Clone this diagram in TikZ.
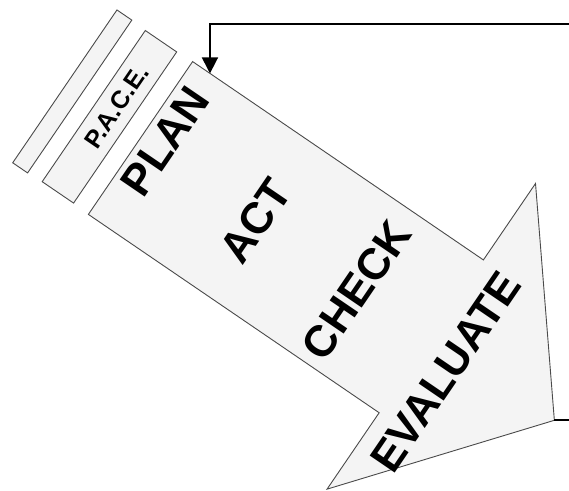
\documentclass[tikz,border=0pt]{standalone}
\usepackage{fontspec}
\setmainfont{Liberation Sans}
\usetikzlibrary{arrows.meta}
\definecolor{Shade}{HTML}{F4F4F4}
\definecolor{Edge}{HTML}{4A4A4A}

\begin{document}
\begin{tikzpicture}[x=0.5pt, y=0.5pt,
    panel/.style={fill=Shade, draw=Edge, line width=0.45pt},
    word/.style={font=\fontsize{22}{24}\selectfont\bfseries, rotate=55.7, inner sep=0pt},
    loop/.style={line width=0.85pt}]
  \useasboundingbox (0,0) rectangle (569,491);
  % everything along the arrow is laid out in the arrow's own frame
  \begin{scope}[shift={(140.5,353)}, rotate=-34.3]
    % the two strips behind the tail
    \draw[panel] (-91.6,-92.5) rectangle (-73.6,92.5);
    \draw[panel] (-56.6,-91.5) rectangle (-18.6,91.5);
    % the big arrow
    \draw[panel] (0,92.5) -- (352,92.5) -- (352,185) -- (501,0)
      -- (352,-185) -- (352,-92.5) -- (0,-92.5) -- cycle;
    \coordinate (entry) at (21,92.5);
    \coordinate (tip) at (501,0);
    \node[word, font=\fontsize{12.5}{14}\selectfont\bfseries] (pace) at (-37.6,12.5) {P.A.C.E.};
    \node[word] (plan) at (22,11.3) {PLAN};
    \node[word] (act) at (142,-3.5) {ACT};
    \node[word] (check) at (264,-4) {CHECK};
    \node[word] (evaluate) at (384,-21) {EVALUATE};
  \end{scope}
  % feedback loop, leaves the picture on the right
  \coordinate (back) at (569,467);
  \coordinate (out) at (569,69);
  \draw[loop] (tip) -- (tip -| out);
  \draw[loop, -{Triangle[length=8pt, width=8pt]}] (back) -| (entry);
\end{tikzpicture}
\end{document}
